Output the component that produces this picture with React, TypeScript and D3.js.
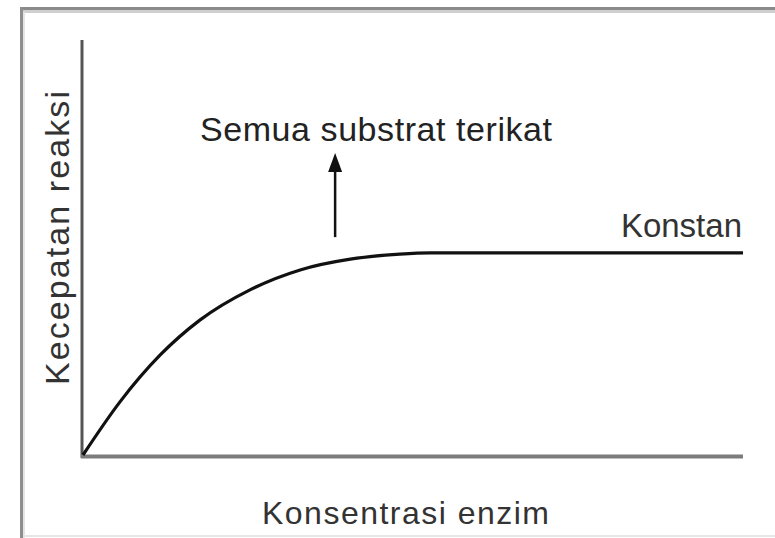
import React from "react";
import * as d3 from "d3";

// Reaction rate vs. enzyme concentration (arbitrary units)
const concentration = [0, 0.56, 1.17, 1.77, 2.53, 3.29, 4.05, 4.8, 5.26, 10];
const rate = [0, 1.28, 2.41, 3.25, 3.98, 4.46, 4.72, 4.84, 4.87, 4.87];

// Annotation: arrow marking the point where all substrate is bound
const arrowAt = 3.82;
const arrowFrom = 5.25;
const arrowTo = 7.28;

const xLabel = "Konsentrasi enzim";
const yLabel = "Kecepatan reaksi";
const topNote = "Semua substrat terikat";
const plateauNote = "Konstan";

const W = 775;
const H = 538;
const FONT = "'Liberation Sans', Arial, Helvetica, sans-serif";

export default function App() {
  const x = d3.scaleLinear().domain([0, 10]).range([83, 743]);
  const y = d3.scaleLinear().domain([0, 10]).range([455, 40]);

  const points: [number, number][] = concentration.map((c, i) => [c, rate[i]]);
  const line = d3
    .line<[number, number]>()
    .x((d) => x(d[0]))
    .y((d) => y(d[1]))
    .curve(d3.curveMonotoneX);

  const [x0, x1] = x.range();
  const [y0, y1] = y.range();

  const ax = x(arrowAt);
  const aBottom = y(arrowFrom);
  const aTip = y(arrowTo);
  const headLen = 19;
  const headHalf = 7;

  return (
    <svg
      width={W}
      height={H}
      viewBox={`0 0 ${W} ${H}`}
      style={{ position: "absolute", left: 0, top: 0, background: "#fff" }}
    >
      {/* frame */}
      <line x1={21} y1={11.5} x2={W} y2={11.5} stroke="#cfcfcf" strokeWidth={3} />
      <line x1={21} y1={8.5} x2={W} y2={8.5} stroke="#8a8a8a" strokeWidth={3} />
      <line x1={21.5} y1={7} x2={21.5} y2={H} stroke="#8e8e8e" strokeWidth={3} />
      <line x1={24} y1={12} x2={24} y2={H} stroke="#e4e4e4" strokeWidth={2} />
      <line x1={24} y1={536} x2={W} y2={536} stroke="#e6e6e6" strokeWidth={2} />

      {/* axes */}
      <line x1={x0 - 1} y1={y1} x2={x0 - 1} y2={y0 + 3} stroke="#555" strokeWidth={3} />
      <line x1={x0 - 2} y1={y0 + 1.5} x2={x1} y2={y0 + 1.5} stroke="#7c7c7c" strokeWidth={4} />

      {/* saturation curve */}
      <path d={line(points) || ""} fill="none" stroke="#111" strokeWidth={3.2} strokeLinecap="butt" />

      {/* arrow */}
      <line x1={ax} y1={aBottom} x2={ax} y2={aTip + headLen - 2} stroke="#111" strokeWidth={2.5} />
      <path
        d={`M${ax},${aTip} L${ax - headHalf},${aTip + headLen} L${ax + headHalf},${aTip + headLen} Z`}
        fill="#111"
      />

      {/* texts */}
      <text
        x={200}
        y={141}
        fontFamily={FONT}
        fontSize={34}
        fill="#222"
        textLength={352}
        lengthAdjust="spacing"
      >
        {topNote}
      </text>
      <text
        x={742}
        y={237}
        textAnchor="end"
        fontFamily={FONT}
        fontSize={33}
        fill="#333"
      >
        {plateauNote}
      </text>
      <text
        x={262}
        y={524}
        fontFamily={FONT}
        fontSize={32}
        fill="#333"
        textLength={287}
        lengthAdjust="spacing"
      >
        {xLabel}
      </text>
      <text
        transform={`translate(69, 385) rotate(-90)`}
        fontFamily={FONT}
        fontSize={34}
        fill="#333"
        textLength={294}
        lengthAdjust="spacing"
      >
        {yLabel}
      </text>
    </svg>
  );
}
